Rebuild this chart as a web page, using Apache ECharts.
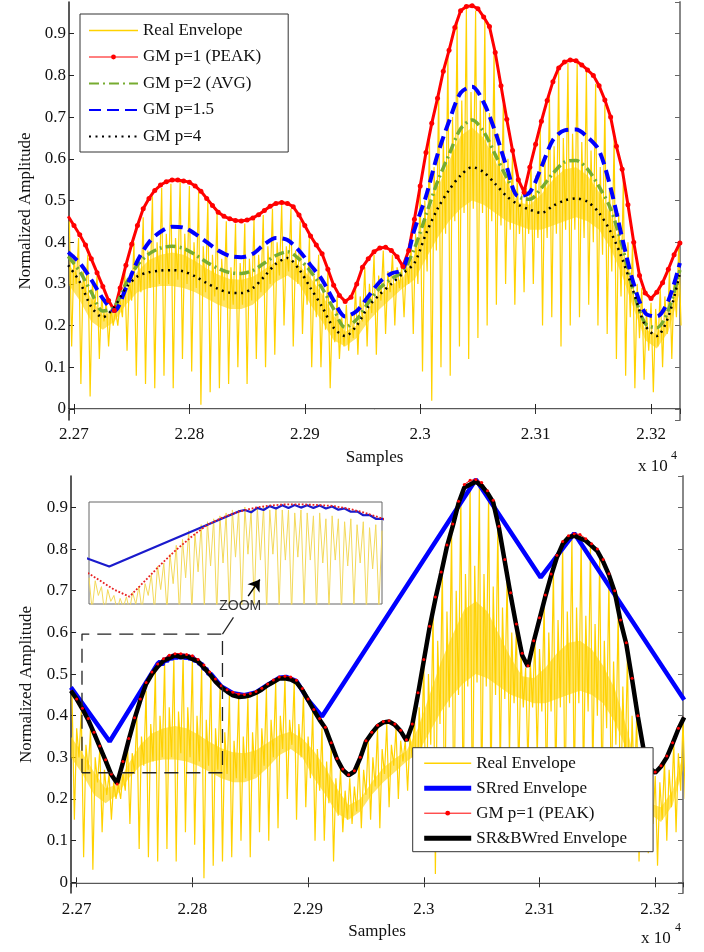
<!DOCTYPE html>
<html><head><meta charset="utf-8">
<script src="https://cdn.jsdelivr.net/npm/echarts@6/dist/echarts.min.js"></script>
<style>html,body{margin:0;padding:0;background:#fff}#c{width:704px;height:952px}</style>
</head><body><div id="c"></div>
<script>
// ---------------- DATA ----------------
// Real envelope (dense oscillation): peaks at REAL_X0 + REAL_STEP*i, troughs half a step later
const REAL_X0 = 22696, REAL_STEP = 4;
const realHi = [
 .45,.37,.41,.33,.37,.30,.32,.27,.26,.24,
 .235,.26,.33,.31,.40,.35,.46,.38,.51,.40,
 .53,.42,.54,.41,.545,.42,.535,.40,.52,.39,
 .50,.37,.47,.36,.45,.34,.445,.35,.445,.36,
 .455,.37,.465,.39,.48,.40,.49,.39,.48,.38,
 .45,.35,.41,.32,.37,.29,.33,.25,.27,.22,
 .25,.23,.29,.27,.34,.30,.37,.32,.38,.33,
 .37,.34,.34,.35,.40,.42,.53,.50,.65,.58,
 .76,.65,.85,.70,.93,.74,.96,.76,.955,.74,
 .93,.71,.86,.66,.73,.60,.61,.55,.515,.53,
 .59,.56,.67,.60,.75,.63,.81,.65,.83,.66,
 .83,.64,.81,.62,.78,.58,.73,.53,.65,.47,
 .55,.40,.40,.30,.29,.24,.255,.24,.29,.27,
 .335,.31,.39];
const realLo = [
 .15,.30,.06,.27,.03,.24,.12,.21,.15,.20,
 .20,.22,.14,.26,.08,.28,.06,.29,.05,.30,
 .08,.30,.05,.31,.12,.30,.09,.29,.01,.28,
 .04,.27,.05,.26,.06,.25,.10,.25,.06,.26,
 .12,.28,.10,.30,.13,.32,.20,.33,.15,.30,
 .18,.25,.10,.22,.10,.19,.05,.16,.12,.15,
 .14,.17,.13,.21,.15,.23,.13,.26,.18,.28,
 .20,.29,.22,.30,.18,.30,.09,.33,.02,.38,
 .10,.42,.08,.45,.15,.47,.12,.48,.17,.47,
 .20,.45,.25,.44,.30,.43,.25,.42,.28,.42,
 .30,.41,.20,.41,.22,.42,.15,.43,.20,.43,
 .22,.41,.25,.40,.20,.37,.18,.33,.12,.27,
 .08,.22,.05,.17,.07,.14,.04,.15,.10,.18,
 .12,.22,.20];
// Dense core band of the real envelope, every 10 samples from 22695
const CORE_X0 = 22695, CORE_STEP = 10;
const coreLo = [
 .30,.26,.21,.19,.21,.25,.28,.29,.295,.295,
 .29,.28,.265,.25,.24,.24,.25,.275,.305,.32,
 .30,.25,.21,.165,.15,.17,.21,.24,.265,.29,
 .31,.36,.41,.45,.48,.50,.49,.47,.45,.44,
 .43,.43,.44,.45,.46,.45,.43,.385,.32,.24,
 .165,.145,.185,.28];
const coreHi = [
 .35,.31,.265,.225,.235,.285,.33,.357,.37,.375,
 .37,.355,.337,.322,.312,.31,.317,.335,.353,.362,
 .345,.315,.275,.225,.185,.20,.24,.275,.297,.315,
 .37,.45,.53,.595,.655,.675,.65,.595,.54,.495,
 .49,.515,.55,.575,.58,.56,.52,.465,.375,.265,
 .19,.18,.22,.315];

// GM p=1 (PEAK), every 5 samples from 22695
const PEAK_X0 = 22695, PEAK_STEP = 5;
const gmPeak = [
 .462,.44,.418,.393,.36,.327,.294,.26,.236,.29,
 .345,.395,.44,.48,.505,.524,.537,.545,.549,.549,
 .547,.544,.535,.522,.505,.488,.472,.462,.456,.452,
 .451,.453,.458,.466,.476,.486,.493,.495,.493,.485,
 .465,.44,.415,.393,.372,.335,.297,.272,.258,.268,
 .30,.34,.36,.377,.386,.388,.38,.365,.342,.38,
 .455,.535,.615,.685,.745,.81,.86,.915,.955,.965,
 .967,.96,.94,.917,.855,.775,.695,.62,.55,.52,
 .58,.635,.69,.74,.785,.818,.832,.837,.835,.825,
 .813,.80,.775,.741,.70,.63,.575,.49,.40,.32,
 .278,.265,.28,.303,.335,.37,.398];

// Other generalized means, every 10 samples from 22695
const ENV_X0 = 22695, ENV_STEP = 10;
const gmP15 = [
 .376,.35,.31,.265,.235,.29,.355,.40,.425,.437,
 .435,.42,.40,.38,.367,.364,.372,.395,.41,.405,
 .38,.345,.31,.26,.222,.235,.27,.305,.325,.335,
 .43,.51,.61,.69,.758,.773,.735,.665,.58,.51,
 .52,.58,.645,.668,.67,.652,.62,.53,.41,.30,
 .23,.222,.26,.35];
const gmAvg = [
 .366,.33,.28,.235,.245,.30,.345,.372,.386,.39,
 .385,.37,.352,.337,.327,.325,.332,.35,.368,.377,
 .36,.33,.29,.24,.196,.215,.255,.29,.312,.33,
 .385,.465,.545,.61,.672,.693,.665,.61,.555,.51,
 .503,.53,.565,.592,.596,.575,.533,.48,.39,.28,
 .205,.195,.237,.333];
const gmP4 = [
 .345,.305,.245,.22,.245,.29,.318,.328,.332,.333,
 .33,.318,.302,.288,.279,.278,.29,.318,.348,.362,
 .335,.29,.245,.195,.175,.20,.245,.275,.30,.325,
 .35,.42,.48,.525,.56,.58,.568,.54,.51,.49,
 .478,.47,.487,.50,.505,.497,.47,.425,.36,.28,
 .20,.175,.221,.325];

// SR&BWred envelope, every 5 samples from 22695
const srbw = [
 .46,.44,.416,.39,.358,.325,.292,.258,.238,.288,
 .342,.392,.437,.476,.50,.518,.532,.538,.545,.541,
 .543,.536,.53,.515,.50,.482,.468,.458,.449,.445,
 .446,.449,.455,.463,.473,.481,.489,.49,.487,.48,
 .462,.438,.413,.39,.37,.333,.296,.27,.257,.266,
 .298,.338,.358,.375,.384,.386,.378,.363,.34,.378,
 .452,.532,.612,.68,.742,.806,.855,.91,.948,.955,
 .962,.952,.935,.912,.85,.77,.69,.615,.545,.518,
 .578,.632,.686,.736,.78,.812,.828,.832,.826,.82,
 .808,.795,.77,.738,.697,.627,.572,.487,.398,.318,
 .275,.263,.278,.30,.333,.368,.396];

// SRred envelope (piecewise linear)
const srX = [22695,22728.5,22770,22772,22774,22776,22778,22780,22782,22784,22786,22788,22790,22792,22794,22796,22798,22800,22802,22804,22806,22808,22810,22812,22814,22816,22825,22835,22845,22855,22865,22875,22881,22890,22900,22912,23045,23101,23130,23225];
const srY = [.468,.338,.525,.53,.522,.537,.53,.543,.535,.546,.537,.547,.538,.546,.537,.545,.535,.542,.531,.535,.524,.525,.512,.513,.50,.50,.47,.454,.449,.456,.474,.491,.493,.483,.438,.398,.967,.732,.838,.438];

// High resolution real envelope shown in the zoom inset (one value per sample from 22722)
const INSET_X0 = 22722, INSET_STEP = 1;
const insetReal = [
 .30,.19,.29,.24,.27,.18,.26,.22,.24,.19,
 .23,.20,.235,.19,.25,.21,.27,.19,.28,.24,
 .31,.19,.34,.26,.35,.19,.38,.28,.41,.18,
 .43,.30,.46,.19,.45,.32,.48,.20,.49,.34,
 .50,.18,.51,.35,.52,.20,.53,.37,.53,.19,
 .54,.38,.53,.21,.54,.36,.54,.19,.53,.38,
 .54,.20,.53,.36,.53,.18,.52,.37,.53,.21,
 .52,.36,.51,.19,.52,.35,.50,.20,.51,.36,
 .50,.19,.49,.34,.50,.21,.48,.35,.49,.19,
 .47,.33,.48,.20,.46];

// Zoom annotation (data coordinates of the bottom chart)
const zoomBoxX = [22704.6, 22826];
const zoomBoxY = [0.263, 0.596];
const zoomLinkX = [22826, 22835.5];
const zoomLinkY = [0.596, 0.636];
const zoomLabelXY = [22841.4, 0.662];
const zoomArrowX = [22848.2, 22858.3];
const zoomArrowY = [0.687, 0.727];

// Axis ranges
const TOP_X = [22695.7, 23225.1], TOP_Y = [-0.0264, 0.976];
const BOT_X = [22695.1, 23224.0], BOT_Y = [-0.0257, 0.9755];
const INSET_XR = [22722, 22816], INSET_YR = [0.211, 0.557];

const topLegendNames = ['Real Envelope','GM p=1 (PEAK)','GM p=2 (AVG)','GM p=1.5','GM p=4'];
const botLegendNames = ['Real Envelope','SRred Envelope','GM p=1 (PEAK)','SR&BWred Envelope'];

// ---------------- BUILD ----------------
const seq = (x0, step, ys) => ys.map((y, i) => [x0 + step * i, y]);
const zig = (x0, step, hi, lo) => {
  const out = [];
  hi.forEach((h, i) => { out.push([x0 + step * i, h]); out.push([x0 + step * i + step / 2, lo[i]]); });
  return out;
};
const pairs = (xs, ys) => xs.map((x, i) => [x, ys[i]]);

const realData = zig(REAL_X0, REAL_STEP, realHi, realLo);
const peakData = seq(PEAK_X0, PEAK_STEP, gmPeak);
const srbwData = seq(PEAK_X0, PEAK_STEP, srbw);
const srData = pairs(srX, srY);
const boxData = [[zoomBoxX[0], zoomBoxY[0]], [zoomBoxX[0], zoomBoxY[1]], [zoomBoxX[1], zoomBoxY[1]], [zoomBoxX[1], zoomBoxY[0]], [zoomBoxX[0], zoomBoxY[0]]];

const FONT = '"Liberation Serif","Times New Roman",serif';
const xFmt = v => String(+(v / 10000).toFixed(4));
const TXT = '#111';

function mainX(grid, r, nameGap, margin) {
  return [{
    gridIndex: grid, type: 'value', min: r[0], max: r[1], splitNumber: 5, position: 'bottom',
    axisLine: { lineStyle: { color: '#222', width: 1.5 } },
    axisTick: { inside: true, length: 5, lineStyle: { color: '#222' } },
    axisLabel: { formatter: xFmt, fontFamily: FONT, fontSize: 17, color: TXT, margin: margin, showMinLabel: false, showMaxLabel: false },
    splitLine: { show: false },
    name: 'Samples', nameLocation: 'middle', nameGap: nameGap,
    nameTextStyle: { fontFamily: FONT, fontSize: 17, color: TXT }
  }, {
    gridIndex: grid, type: 'value', min: r[0], max: r[1], splitNumber: 5, position: 'top',
    axisLine: { lineStyle: { color: '#d8d8d8', width: 1 } },
    axisTick: { inside: true, length: 5, lineStyle: { color: '#333' } },
    axisLabel: { show: false }, splitLine: { show: false }
  }];
}
function mainY(grid, r, nameGap) {
  return [{
    gridIndex: grid, type: 'value', min: r[0], max: r[1], splitNumber: 10, position: 'left',
    axisLine: { show: true, lineStyle: { color: '#222', width: 1.5 } },
    axisTick: { show: true, inside: true, length: 5, lineStyle: { color: '#222' } },
    axisLabel: { fontFamily: FONT, fontSize: 17, color: TXT, margin: 3, showMinLabel: false, showMaxLabel: false },
    splitLine: { show: false },
    name: 'Normalized Amplitude', nameLocation: 'middle', nameGap: nameGap,
    nameTextStyle: { fontFamily: FONT, fontSize: 17, color: TXT }
  }, {
    gridIndex: grid, type: 'value', min: r[0], max: r[1], splitNumber: 10, position: 'right',
    axisLine: { show: true, lineStyle: { color: '#888', width: 2 } },
    axisTick: { show: true, inside: true, length: 5, lineStyle: { color: '#666' } },
    axisLabel: { show: false }, splitLine: { show: false }
  }];
}

const YEL = '#FFD200';
const line = (name, xi, yi, data, lineStyle, extra) => Object.assign({
  type: 'line', name, xAxisIndex: xi, yAxisIndex: yi, data, symbol: 'none',
  lineStyle, itemStyle: { color: lineStyle.color }, silent: true, z: 2
}, extra || {});
// dense core of the real envelope: polygon between coreLo and coreHi, placed by the axes
const coreBand = (xi, yi) => ({
  type: 'custom', name: 'Real Envelope core', xAxisIndex: xi, yAxisIndex: yi, silent: true, z: 1, clip: true,
  data: [[CORE_X0, coreLo[0]]],
  renderItem: (params, api) => {
    const pts = [];
    coreLo.forEach((v, i) => pts.push(api.coord([CORE_X0 + CORE_STEP * i, v])));
    for (let i = coreHi.length - 1; i >= 0; i--) pts.push(api.coord([CORE_X0 + CORE_STEP * i, coreHi[i]]));
    return { type: 'polygon', shape: { points: pts }, style: { fill: YEL, opacity: 0.6 } };
  }
});
const hideSym = { itemStyle: { opacity: 0 } };
const legendItem = n => {
  if (n === 'GM p=1 (PEAK)') return { name: n, lineStyle: { width: 1 } };
  const it = Object.assign({ name: n }, hideSym);
  if (n === 'Real Envelope') it.lineStyle = { width: 1.6 };
  if (n === 'SRred Envelope' || n === 'SR&BWred Envelope') it.lineStyle = { width: 5 };
  return it;
};

const option = {
  animation: false,
  backgroundColor: '#fff',
  grid: [
    { left: 69, top: 2, width: 611, height: 418 },
    { left: 71, top: 476, width: 612, height: 417 },
    { left: 89, top: 502, width: 293, height: 102, show: true, backgroundColor: '#fff', borderColor: '#666', borderWidth: 1, z: 10 }
  ],
  xAxis: [...mainX(0, TOP_X, 29, 6), ...mainX(1, BOT_X, 30, 8),
    { gridIndex: 2, type: 'value', min: INSET_XR[0], max: INSET_XR[1], show: false }],
  yAxis: [...mainY(0, TOP_Y, 35), ...mainY(1, BOT_Y, 36),
    { gridIndex: 2, type: 'value', min: INSET_YR[0], max: INSET_YR[1], show: false }],
  legend: [{
    data: topLegendNames.map(legendItem),
    orient: 'vertical', left: 80, top: 14, padding: [8, 27, 7, 8], itemGap: 9.5,
    itemWidth: 49, itemHeight: 6, backgroundColor: '#fff', borderColor: '#333', borderWidth: 1,
    textStyle: { fontFamily: FONT, fontSize: 17, color: TXT }, selectedMode: false, z: 20
  }, {
    data: botLegendNames.map(legendItem),
    orient: 'vertical', left: 412.7, top: 747.7, padding: [7, 26, 5, 9], itemGap: 8,
    itemWidth: 47, itemHeight: 6, backgroundColor: '#fff', borderColor: '#333', borderWidth: 1,
    textStyle: { fontFamily: FONT, fontSize: 17, color: TXT }, selectedMode: false, z: 20
  }],
  graphic: [
    { type: 'text', x: 638, y: 458, z: 5, style: { text: 'x 10', font: '17px "Liberation Serif"', fill: TXT } },
    { type: 'text', x: 671, y: 450, z: 5, style: { text: '4', font: '12px "Liberation Serif"', fill: TXT } },
    { type: 'text', x: 641, y: 930, z: 5, style: { text: 'x 10', font: '17px "Liberation Serif"', fill: TXT } },
    { type: 'text', x: 675, y: 922, z: 5, style: { text: '4', font: '12px "Liberation Serif"', fill: TXT } }
  ],
  series: [
    // ---- top chart ----
    coreBand(0, 0),
    line('Real Envelope', 0, 0, realData, { color: YEL, width: 1.2 }),
    line('GM p=1 (PEAK)', 0, 0, peakData, { color: '#FF0000', width: 3 }, { symbol: 'circle', symbolSize: 5, showSymbol: true }),
    line('GM p=2 (AVG)', 0, 0, seq(ENV_X0, ENV_STEP, gmAvg), { color: '#77AC30', width: 3.5, type: [10, 4, 2, 4] }, { smooth: 0.3 }),
    line('GM p=1.5', 0, 0, seq(ENV_X0, ENV_STEP, gmP15), { color: '#0000FF', width: 4, type: [12, 6] }, { smooth: 0.3 }),
    line('GM p=4', 0, 0, seq(ENV_X0, ENV_STEP, gmP4), { color: '#000000', width: 2.5, type: [2, 4.5] }, { smooth: 0.3 }),
    // ---- bottom chart ----
    coreBand(2, 2),
    line('Real Envelope', 2, 2, realData, { color: YEL, width: 1.2 }),
    line('SRred Envelope', 2, 2, srData, { color: '#0000FF', width: 4.5 }),
    line('GM p=1 (PEAK)', 2, 2, peakData, { color: '#FF0000', width: 1 }, { symbol: 'circle', symbolSize: 3, showSymbol: true }),
    line('SR&BWred Envelope', 2, 2, srbwData, { color: '#000000', width: 4.5 }),
    line('zoomBox', 2, 2, boxData, { color: '#222', width: 1.3, type: [14, 8] }, { z: 3 }),
    line('zoomLink', 2, 2, pairs(zoomLinkX, zoomLinkY), { color: '#222', width: 1.2 }, { z: 3 }),
    { type: 'scatter', name: 'zoomLabel', xAxisIndex: 2, yAxisIndex: 2, data: [zoomLabelXY], symbolSize: 1,
      itemStyle: { color: 'rgba(0,0,0,0)' }, silent: true, z: 30,
      label: { show: true, position: 'inside', formatter: 'ZOOM', fontFamily: '"Liberation Sans",Arial,sans-serif', fontSize: 14, color: '#000' } },
    { type: 'lines', name: 'zoomArrow', coordinateSystem: 'cartesian2d', xAxisIndex: 2, yAxisIndex: 2, z: 30, silent: true,
      symbol: ['none', 'arrow'], symbolSize: 11,
      lineStyle: { color: '#000', width: 1.5, opacity: 1 },
      data: [{ coords: pairs(zoomArrowX, zoomArrowY) }] },
    // ---- inset ----
    line('insetReal', 4, 4, seq(INSET_X0, INSET_STEP, insetReal), { color: '#F3D95A', width: 1 }, { z: 11 }),
    line('insetSR', 4, 4, srData, { color: '#1a1acc', width: 2.2 }, { z: 12 }),
    line('insetPeak', 4, 4, peakData, { color: '#E82020', width: 1.8, type: 'dotted' }, { z: 13 })
  ]
};

const chart = echarts.init(document.getElementById('c'), null, { renderer: 'canvas' });
chart.setOption(option);
</script>
</body></html>
